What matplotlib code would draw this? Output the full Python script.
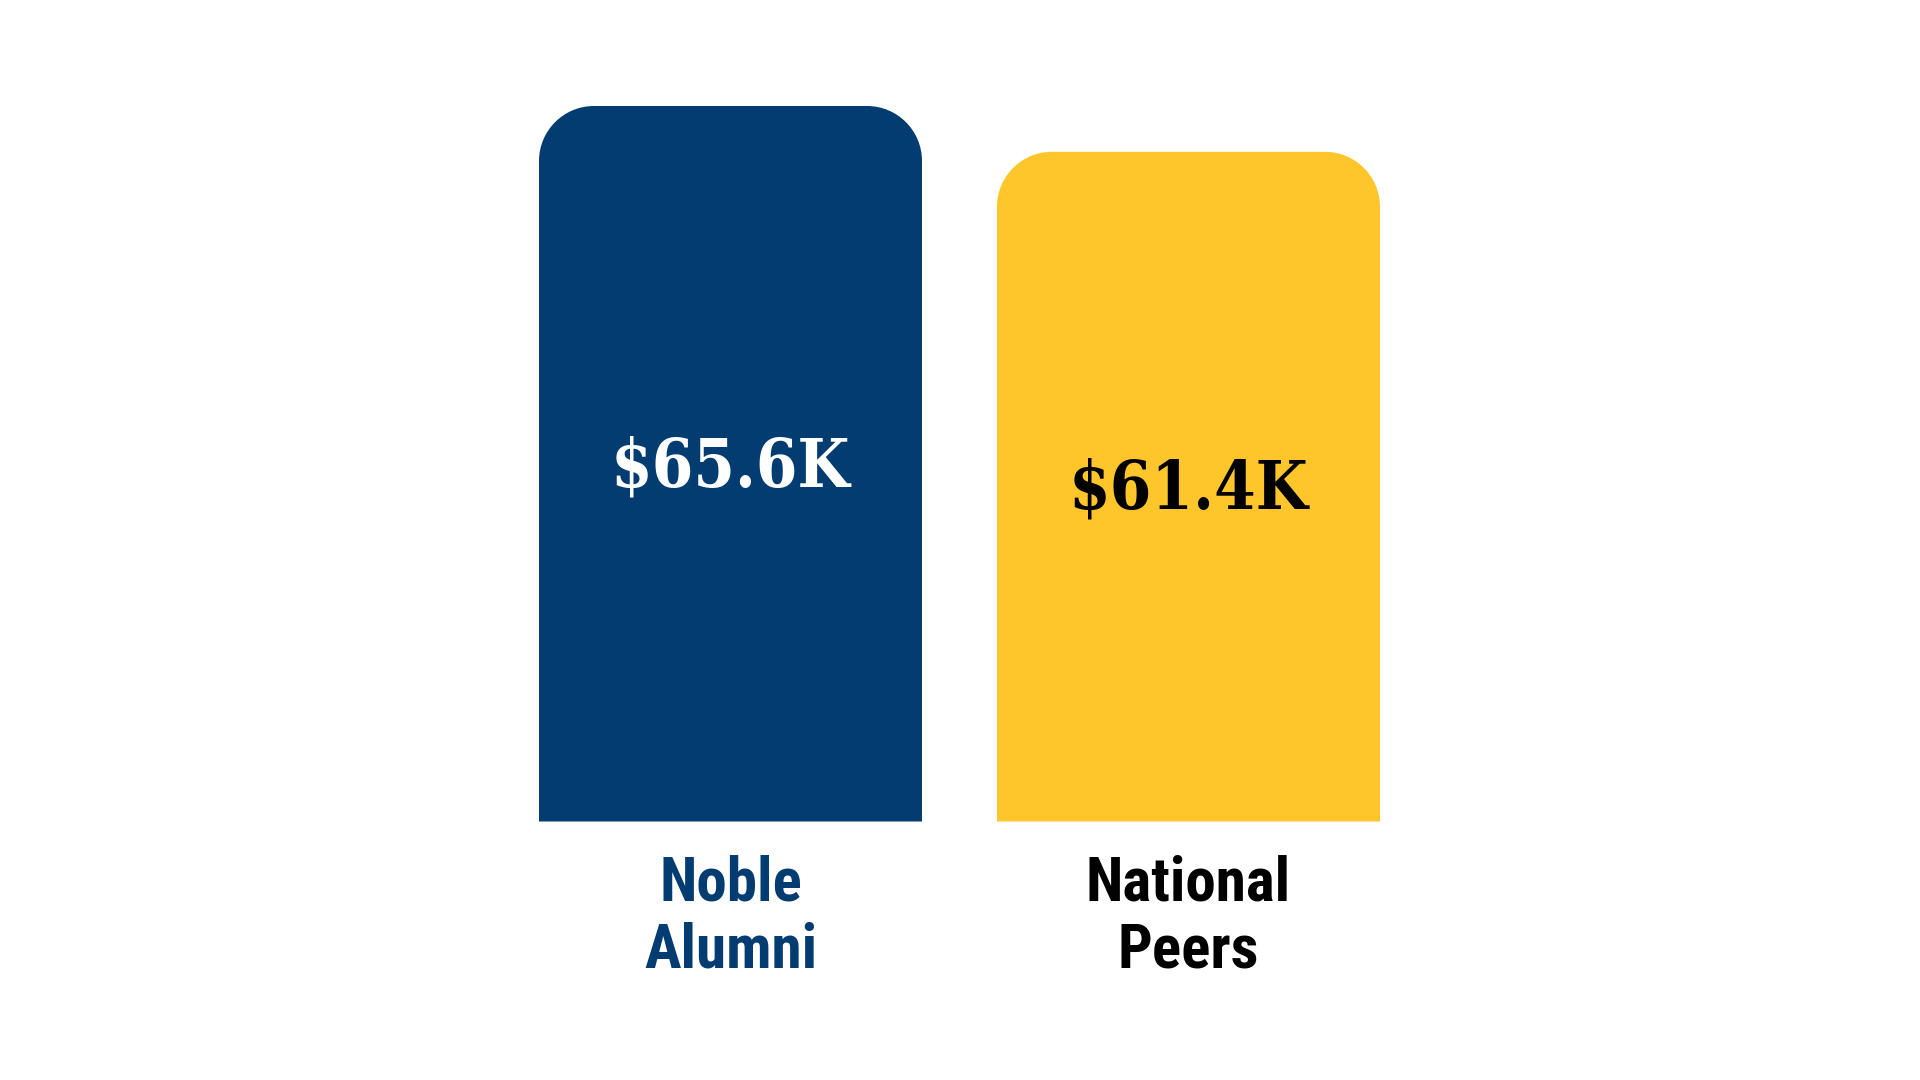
import matplotlib
matplotlib.use("Agg")
import matplotlib.pyplot as plt
from matplotlib.path import Path
from matplotlib.patches import PathPatch

# ---------------------------------------------------------------------------
# Data
# ---------------------------------------------------------------------------
categories = [["Noble", "Alumni"], ["National", "Peers"]]
values = [65.6, 61.4]
value_labels = ["$65.6K", "$61.4K"]
bar_colors = ["#023C71", "#FFC62C"]
value_text_colors = ["white", "black"]
category_text_colors = ["#023C71", "black"]

W, H = 1920, 1080
fig = plt.figure(figsize=(W / 100, H / 100), dpi=100)
fig.patch.set_facecolor("white")

# axes placed in pixel terms: bar base at y=821.5px, ~10.9 px per unit
px_per_unit = 10.907
px_per_x = 458.0
base_px = 821.5
top_px = 40
left_px = 730.5 - 0.6 * px_per_x
right_px = 730.5 + 1.6 * px_per_x
ax = fig.add_axes([left_px / W, (H - base_px) / H, (right_px - left_px) / W, (base_px - top_px) / H])
ax.set_xlim(-0.6, 1.6)
ax.set_ylim(0, (base_px - top_px) / px_per_unit)
ax.axis("off")

bar_width = 383 / px_per_x
bars = ax.bar(range(len(values)), values, width=bar_width, color=bar_colors)

# rounded top corners (radius ~55 px)
radius_px = 55
rx = radius_px / px_per_x
ry = radius_px / px_per_unit
k = 0.5523
for rect, color in zip(bars, bar_colors):
    x0, w, h = rect.get_x(), rect.get_width(), rect.get_height()
    x1 = x0 + w
    verts = [
        (x0, 0), (x0, h - ry),
        (x0, h - ry + k * ry), (x0 + rx - k * rx, h), (x0 + rx, h),
        (x1 - rx, h),
        (x1 - rx + k * rx, h), (x1, h - ry + k * ry), (x1, h - ry),
        (x1, 0), (x0, 0),
    ]
    codes = [Path.MOVETO, Path.LINETO,
             Path.CURVE4, Path.CURVE4, Path.CURVE4,
             Path.LINETO,
             Path.CURVE4, Path.CURVE4, Path.CURVE4,
             Path.LINETO, Path.CLOSEPOLY]
    rect.set_visible(False)
    ax.add_patch(PathPatch(Path(verts, codes), facecolor=color, edgecolor="none"))

# value labels at the middle of each bar
for i, (v, lab) in enumerate(zip(values, value_labels)):
    ax.text(i, v / 2 - 0.35, lab, ha="center", va="center",
            fontsize=48, fontweight="bold", family=["DejaVu Serif"],
            fontstretch="condensed", color=value_text_colors[i])

# category labels below bars, one line at a time on fixed baselines
line_offsets = [-7.25, -13.38]
for i, lines in enumerate(categories):
    for line, y in zip(lines, line_offsets):
        ax.text(i, y, line, ha="center", va="baseline", fontsize=44, fontweight="bold",
                family=["Roboto Condensed", "Roboto", "DejaVu Sans"],
                color=category_text_colors[i], clip_on=False)

fig.savefig("out.png", dpi=100, facecolor="white")
